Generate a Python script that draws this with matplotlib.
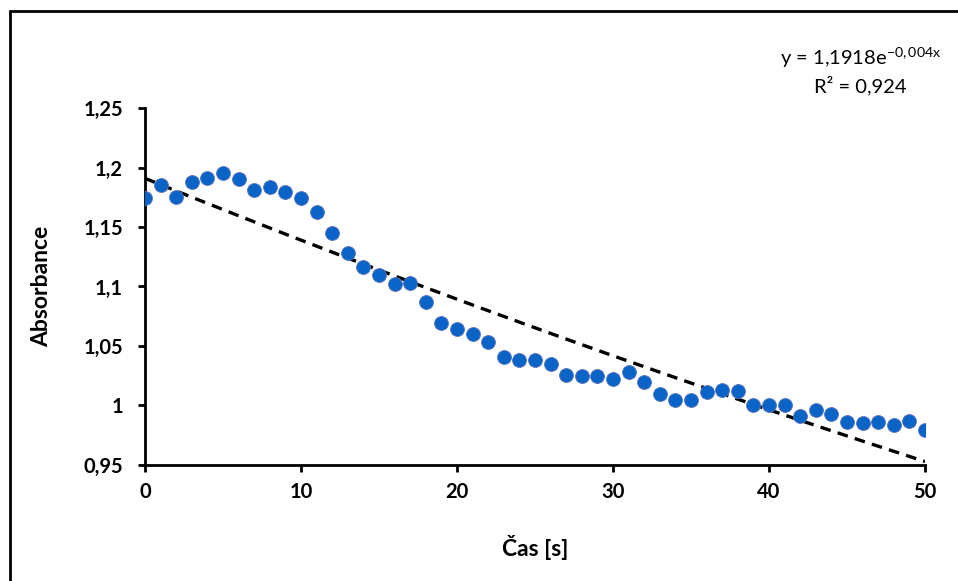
import numpy as np
import matplotlib.pyplot as plt
from matplotlib.ticker import FuncFormatter, MultipleLocator
from matplotlib.patches import Rectangle

plt.rcParams['font.family'] = ['Lato', 'DejaVu Sans']
plt.rcParams['mathtext.fontset'] = 'custom'
plt.rcParams['mathtext.rm'] = 'Lato'
plt.rcParams['mathtext.it'] = 'Lato'

# time [s] and measured absorbance
cas = list(range(51))
absorbance = [1.174, 1.185, 1.175, 1.188, 1.191, 1.195, 1.190, 1.181, 1.184, 1.179,
              1.174, 1.163, 1.145, 1.128, 1.116, 1.110, 1.102, 1.103, 1.087, 1.069,
              1.064, 1.060, 1.053, 1.041, 1.038, 1.038, 1.035, 1.026, 1.025, 1.025,
              1.022, 1.028, 1.020, 1.010, 1.005, 1.005, 1.011, 1.013, 1.012, 1.000,
              1.000, 1.000, 0.991, 0.996, 0.993, 0.986, 0.985, 0.986, 0.984, 0.987,
              0.979]

x = np.array(cas); y = np.array(absorbance)
# exponential trendline, same way Excel does it (fit on ln y)
b, lna = np.polyfit(x, np.log(y), 1)
xt = np.linspace(0, 50, 200)
yt = np.exp(lna) * np.exp(b * xt)

fig = plt.figure(figsize=(9.58, 5.81), dpi=100)
ax = fig.add_axes([0.1514, 0.1997, 0.8142, 0.6144])

ax.plot(xt, yt, color="black", ls=(0, (3.2, 2.2)), lw=2.4, zorder=2)
ax.plot(x, y, "o", ms=10, color="#0A64C8", mec="#5C74B8", mew=0.6, zorder=3)

ax.set_xlim(0, 50); ax.set_ylim(0.95, 1.25)
ax.xaxis.set_major_locator(MultipleLocator(10))
ax.yaxis.set_major_locator(MultipleLocator(0.05))
fmt = lambda v, _: f"{v:.2f}".rstrip("0").rstrip(".").replace(".", ",")
ax.yaxis.set_major_formatter(FuncFormatter(fmt))
ax.xaxis.set_major_formatter(FuncFormatter(lambda v, _: f"{v:g}"))

for s in ("top", "right"):
    ax.spines[s].set_visible(False)
for s in ("left", "bottom"):
    ax.spines[s].set_linewidth(2)
ax.tick_params(direction="out", length=5, width=2, labelsize=14.5)
ax.tick_params(axis="y", pad=11)
ax.tick_params(axis="x", pad=7)
for lab in ax.get_xticklabels() + ax.get_yticklabels():
    lab.set_fontweight("bold")

ax.set_xlabel("Čas [s]", fontsize=16.5, fontweight="bold", va="center")
ax.set_ylabel("Absorbance", fontsize=16.5, fontweight="bold", va="center")
ax.xaxis.set_label_coords(0.5, -0.232)
ax.yaxis.set_label_coords(-0.132, 0.5)

fig.text(0.898, 0.90, r"y = 1,1918e$^{-0,004x}$", ha="center", va="center", fontsize=14.5)
fig.text(0.898, 0.853, "R² = 0,924", ha="center", va="center", fontsize=14.5)

# outer chart frame (cropped on right and bottom in the original)
fig.patches.append(Rectangle((0.0104, -0.05), 1.2, 1.0310, transform=fig.transFigure,
                             fill=False, ec="black", lw=2))

fig.savefig("out.png", dpi=100)
